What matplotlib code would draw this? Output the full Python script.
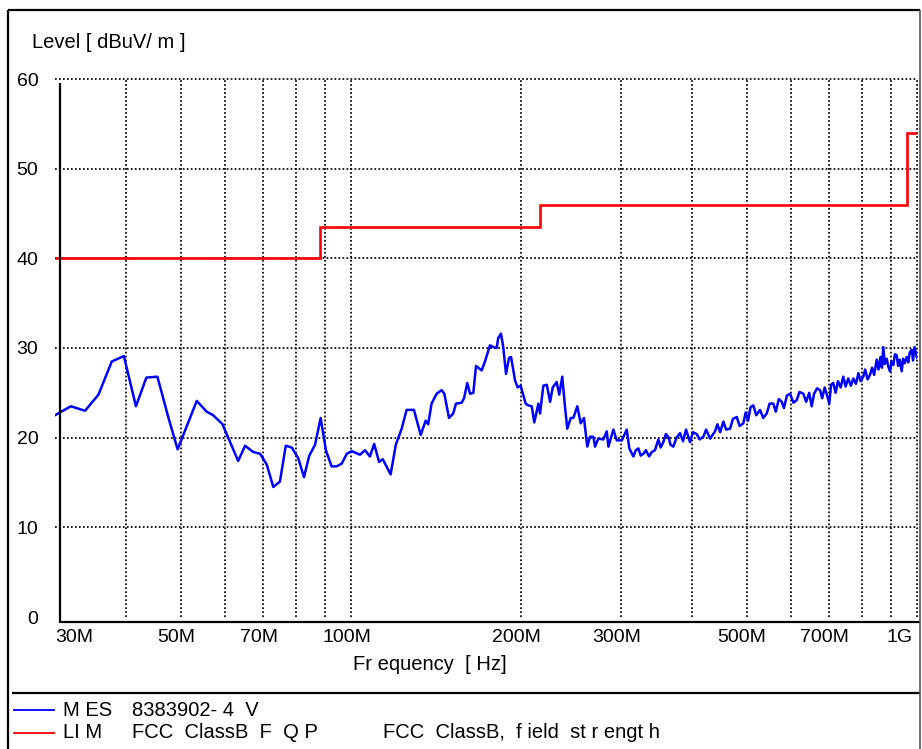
import matplotlib
matplotlib.use("Agg")
import matplotlib.pyplot as plt
from matplotlib.lines import Line2D
from matplotlib.ticker import FixedLocator, NullFormatter
import matplotlib.transforms as mtransforms

plt.rcParams['font.family'] = ['Liberation Sans', 'DejaVu Sans']

# ---------------- data ----------------
mes_freq_mhz = [
    30.0, 32.0, 33.9, 35.8, 37.8, 39.7, 41.7, 43.5, 45.5, 47.6, 49.4, 53.4, 55.6, 57.1, 59.3,
    63.2, 65.0, 67.2, 69.1, 71.0, 72.9, 74.9, 76.7, 78.6, 80.7, 82.6, 84.4, 86.4, 88.4, 90.3,
    92.4, 94.3, 96.3, 98.3, 100.3, 103.7, 105.9, 108.0, 109.9, 112.1, 113.8, 117.5, 120.0,
    122.9, 125.4, 129.2, 132.8, 135.5, 136.9, 138.8, 141.7, 144.6, 146.2, 149.0, 151.6, 153.3,
    156.9, 158.4, 160.5, 162.3, 164.5, 166.3, 170.2, 172.5, 176.0, 178.4, 180.9, 182.0, 184.1,
    185.8, 187.9, 190.2, 191.8, 194.9, 197.0, 199.4, 203.5, 205.7, 208.6, 210.8, 214.3, 215.8,
    218.7, 221.8, 224.8, 227.2, 230.9, 233.3, 236.2, 238.8, 241.1, 244.5, 247.1, 251.1, 254.6,
    258.0, 261.5, 264.4, 268.0, 269.9, 273.5, 279.2, 283.1, 285.0, 290.8, 294.8, 300.9, 307.0,
    310.3, 315.4, 318.5, 321.9, 325.0, 328.5, 332.0, 336.2, 340.0, 344.5, 349.1, 352.5, 356.3,
    360.0, 363.6, 367.0, 371.1, 376.0, 381.4, 386.0, 390.8, 397.2, 402.0, 408.2, 413.0, 419.3,
    424.0, 430.9, 439.7, 444.0, 449.0, 454.9, 460.0, 467.4, 473.0, 480.3, 486.0, 493.4, 498.0,
    503.0, 508.0, 513.9, 520.0, 528.0, 535.0, 542.6, 549.0, 557.4, 563.0, 570.0, 576.8, 582.0,
    589.0, 596.6, 605.0, 613.1, 620.0, 629.8, 637.0, 645.0, 651.6, 658.0, 666.0, 674.0, 680.0,
    687.0, 693.0, 699.9, 705.0, 711.3, 718.0, 725.0, 733.0, 741.0, 748.0, 756.0, 764.0, 771.8,
    780.0, 788.0, 795.0, 803.7, 810.0, 818.0, 826.0, 833.0, 840.0, 848.8, 855.0, 862.0, 867.0,
    871.9, 877.0, 884.0, 890.0, 896.0, 902.0, 908.0, 914.0, 920.7, 926.0, 932.0, 939.7, 945.0,
    951.0, 959.0, 965.0, 971.0, 978.6, 984.0, 990.0, 995.9, 1000.0,
]
mes_level = [
    22.5, 23.5, 23.0, 24.8, 28.5, 29.1, 23.5, 26.7, 26.8, 22.2, 18.7, 24.1, 22.9, 22.5, 21.5,
    17.4, 19.1, 18.4, 18.2, 17.0, 14.5, 15.1, 19.1, 18.9, 17.7, 15.6, 18.0, 19.2, 22.2, 18.6,
    16.8, 16.8, 17.1, 18.2, 18.5, 18.1, 18.6, 17.9, 19.3, 17.3, 17.6, 15.9, 19.2,
    21.0, 23.1, 23.1, 20.3, 21.9, 21.5, 23.8, 24.9, 25.3, 24.9, 22.2, 22.7, 23.8,
    23.9, 24.4, 26.1, 24.9, 25.0, 28.0, 27.5, 28.5, 30.3, 30.1, 30.0, 31.1, 31.6,
    30.1, 27.1, 28.9, 29.0, 26.4, 25.6, 25.8, 23.8, 23.6, 23.5, 21.7, 23.8, 22.7,
    25.8, 25.9, 24.0, 25.6, 26.2, 24.8, 26.8, 23.5, 21.0, 22.2, 22.2, 23.5, 21.6,
    22.2, 19.0, 20.1, 20.1, 19.0, 19.9, 19.8, 20.7, 19.0, 20.9, 19.7, 19.7, 20.9,
    18.8, 17.9, 18.6, 18.8, 18.0, 18.2, 18.6, 17.9, 18.4, 18.6, 19.8, 18.9, 19.5,
    20.4, 20.1, 19.2, 19.0, 20.0, 20.5, 19.6, 20.9, 19.5, 20.6, 20.4, 19.8, 20.1,
    20.9, 19.9, 20.7, 21.5, 20.6, 21.8, 20.9, 21.0, 22.1, 22.3, 21.3, 21.6, 22.8,
    21.9, 23.4, 23.6, 22.5, 23.1, 22.2, 22.7, 23.8, 23.8, 22.9, 24.3, 24.0, 23.3,
    24.7, 24.9, 23.9, 24.2, 25.1, 24.9, 24.0, 25.0, 23.5, 24.9, 25.5, 25.3, 24.4,
    25.6, 24.8, 23.8, 25.9, 26.1, 25.0, 26.3, 25.6, 26.8, 25.7, 26.6, 25.8, 26.6,
    26.0, 27.2, 26.3, 26.8, 27.6, 26.5, 27.0, 27.8, 27.0, 28.7, 27.6, 29.0, 27.8,
    30.1, 28.2, 28.8, 27.9, 27.4, 28.5, 28.1, 29.3, 29.2, 28.0, 28.7, 27.4, 28.8,
    28.3, 29.0, 28.4, 29.5, 29.8, 28.6, 30.1, 29.4, 28.9,
]

lim_freq_mhz = [30.0, 88.0, 216.0, 960.0, 1000.0]
lim_level = [40.0, 43.5, 46.0, 54.0, 54.0]

xtick_vals = [30, 50, 70, 100, 200, 300, 500, 700, 1000]
xtick_labels = ["30M", "50M", "70M", "100M", "200M", "300M", "500M", "700M", "1G"]
xminor_vals = [40, 60, 80, 90, 400, 600, 800, 900]
ytick_vals = [0, 10, 20, 30, 40, 50, 60]

legend_rows = [
    ("#0000FF", "M ES", "8383902- 4  V", ""),
    ("#FF0000", "LI M", "FCC  ClassB  F  Q P", "FCC  ClassB,  f ield  st r engt h"),
]

# ---------------- figure ----------------
W, H = 922, 749
fig = plt.figure(figsize=(W / 100, H / 100), dpi=100)

def fx(px):
    return px / W

def fy(py):
    return 1 - py / H

ax = fig.add_axes([fx(55), fy(617), fx(917) - fx(55), fy(79) - fy(617)])
ax.set_xscale('log')
ax.set_xlim(30, 1000)
ax.set_ylim(0, 60)

ax.plot(lim_freq_mhz, lim_level, color='#FF0000', lw=1.9, drawstyle='steps-post',
        solid_joinstyle='miter', zorder=3)
ax.plot(mes_freq_mhz, mes_level, color='#0000FF', lw=1.8, zorder=4)

ax.xaxis.set_major_locator(FixedLocator(xtick_vals))
ax.xaxis.set_minor_locator(FixedLocator(xminor_vals))
ax.xaxis.set_minor_formatter(NullFormatter())
ax.set_xticks(xtick_vals)
ax.set_xticklabels(xtick_labels)
ax.set_yticks(ytick_vals)
ax.set_yticklabels([str(v) for v in ytick_vals])

ax.tick_params(axis='both', which='both', length=0)
ax.tick_params(axis='x', pad=9, labelsize=14)
ax.tick_params(axis='y', pad=12, labelsize=14)

dot = (0, (1, 1.3))
ax.grid(True, which='both', color='black', linestyle=dot, linewidth=1.25)
ax.set_axisbelow(True)
for sp in ax.spines.values():
    sp.set_visible(False)

fig.canvas.draw()
ax.xaxis.get_gridlines()[0].set_visible(False)
ax.yaxis.get_gridlines()[0].set_visible(False)
for gl in ax.xaxis.get_gridlines() + ax.yaxis.get_gridlines():
    gl.set_clip_on(False)

labels = ax.get_xticklabels()
shift = mtransforms.ScaledTranslation(-0.045, 0, fig.dpi_scale_trans)
for i, lab in enumerate(labels):
    if i == 0:
        lab.set_horizontalalignment('left')
    elif i == len(labels) - 1:
        lab.set_horizontalalignment('right')
        lab.set_transform(lab.get_transform() + shift)
    else:
        lab.set_transform(lab.get_transform() + shift)

def fline(x0, y0, x1, y1, lw=1.5, color='black'):
    fig.add_artist(Line2D([fx(x0), fx(x1)], [fy(y0), fy(y1)], transform=fig.transFigure,
                          color=color, lw=lw, solid_capstyle='butt'))

fline(60, 83, 60, 623, lw=1.6)
fline(60, 622, 920, 622, lw=1.6)
fline(12, 693, 920, 693, lw=1.6)
fline(8, 10, 8, 749, lw=1.6)
fline(8, 10, 920, 10, lw=1.6)
fline(920, 10, 920, 749, lw=1.2, color='#555555')

fig.text(fx(32), fy(43), "Level [ dBuV/ m ]", fontsize=14.5, ha='left', va='center')
fig.text(fx(430), fy(664), "Fr equency  [ Hz]", fontsize=14.5, ha='center', va='center')

row_y = [710, 733]
for (col, tag, name, desc), yy in zip(legend_rows, row_y):
    fline(13, yy, 55, yy, lw=1.3, color=col)
    fig.text(fx(63), fy(yy), tag, fontsize=14.5, ha='left', va='center')
    fig.text(fx(132), fy(yy), name, fontsize=14.5, ha='left', va='center')
    if desc:
        fig.text(fx(383), fy(yy), desc, fontsize=14.5, ha='left', va='center')

fig.savefig("out.png", dpi=100)
